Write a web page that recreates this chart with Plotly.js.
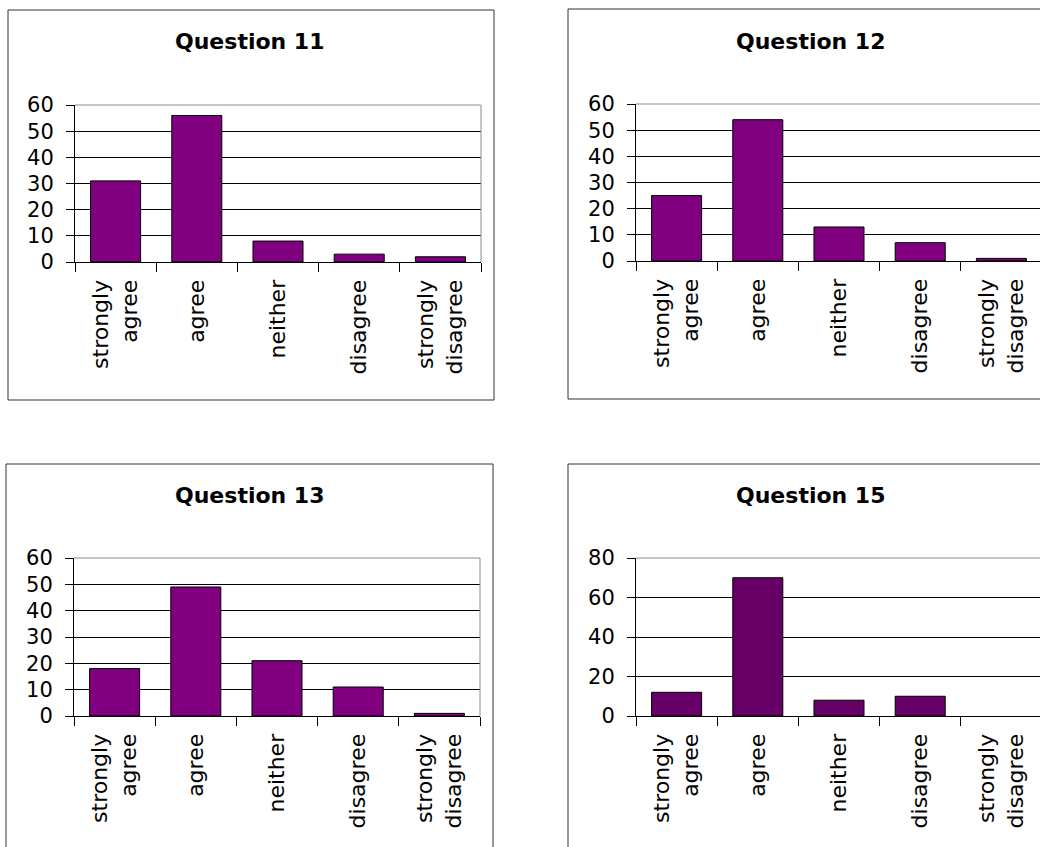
<!DOCTYPE html>
<html><head><meta charset="utf-8">
<script src="https://cdn.plot.ly/plotly-3.0.1.min.js"></script>
<style>
html,body{margin:0;padding:0;overflow:hidden;background:#fff;width:1040px;height:847px}
#chart{width:1060px;height:860px}
</style>
</head><body><div id="chart"></div>
<script>
// ---- data ----
const categories = ["strongly<br>agree", "agree", "neither", "disagree", "strongly<br>disagree"];
const titles = ["Question 11", "Question 12", "Question 13", "Question 15"];
const q11Values = [31, 56, 8, 3, 2];
const q12Values = [25, 54, 13, 7, 1];
const q13Values = [18, 49, 21, 11, 1];
const q15Values = [12, 70, 8, 10, 0];
const yMax = [60, 60, 60, 80];
const yStep = [10, 10, 10, 20];

// ---- layout geometry (pixels) ----
const W = 1060, H = 860;
const panels = [
  {values: q11Values, color: '#800080', plot: [75, 481, 105, 262], box: [8, 494, 10, 400], t: [250, 41]},
  {values: q12Values, color: '#800080', plot: [636, 1042, 104, 261], box: [568, 1054, 9, 399], t: [811, 41]},
  {values: q13Values, color: '#800080', plot: [74, 480, 558, 716], box: [6, 493, 464, 854], t: [250, 495]},
  {values: q15Values, color: '#660066', plot: [636, 1042, 558, 716], box: [568, 1054, 464, 854], t: [811, 495]}
];

const FONT = 'DejaVu Sans, Verdana, Arial, sans-serif';
const traces = [];
const layout = {
  width: W, height: H,
  margin: {l: 0, r: 0, t: 0, b: 0},
  paper_bgcolor: '#fff', plot_bgcolor: '#fff',
  showlegend: false,
  bargap: 0.384,
  shapes: [], annotations: []
};

panels.forEach((p, i) => {
  const n = i === 0 ? '' : String(i + 1);
  const xa = 'x' + n, ya = 'y' + n;
  traces.push({
    type: 'bar', x: categories, y: p.values, xaxis: xa, yaxis: ya,
    marker: {color: p.color, line: {color: '#000', width: p.values.map(v => v === 0 ? 0 : 1)}},
    hoverinfo: 'x+y'
  });
  const [px0, px1, py0, py1] = p.plot;
  layout['xaxis' + n] = {
    domain: [px0 / W, px1 / W], anchor: ya, type: 'category',
    range: [-0.5, categories.length - 0.5],
    tickson: 'boundaries', ticks: 'outside', ticklen: 9, tickwidth: 1, tickcolor: '#000',
    showline: true, linecolor: '#000', linewidth: 1, showgrid: false, zeroline: false,
    tickangle: -90, ticklabelstandoff: 8,
    tickfont: {family: FONT, size: 22, color: '#000'}, fixedrange: true
  };
  layout['yaxis' + n] = {
    domain: [1 - py1 / H, 1 - py0 / H], anchor: xa,
    range: [0, yMax[i]], tick0: 0, dtick: yStep[i],
    ticks: 'outside', ticklen: 8, tickwidth: 1, tickcolor: '#000',
    showline: true, linecolor: '#000', linewidth: 1,
    showgrid: true, gridcolor: '#000', gridwidth: 1, zeroline: false,
    ticklabelstandoff: 8,
    tickfont: {family: FONT, size: 21, color: '#000'}, fixedrange: true
  };
  // plot-area top/right border (gray)
  layout.shapes.push(
    {type: 'line', xref: xa + ' domain', yref: ya + ' domain', x0: 0, x1: 1, y0: 1, y1: 1,
     line: {color: '#8c8c8c', width: 1}, layer: 'above'},
    {type: 'line', xref: xa + ' domain', yref: ya + ' domain', x0: 1, x1: 1, y0: 0, y1: 1,
     line: {color: '#8c8c8c', width: 1}, layer: 'above'}
  );
  // chart frame
  const [bx0, bx1, by0, by1] = p.box;
  layout.shapes.push({type: 'rect', xref: 'paper', yref: 'paper',
    x0: bx0 / W, x1: bx1 / W, y0: 1 - by1 / H, y1: 1 - by0 / H,
    line: {color: '#333', width: 1}, fillcolor: 'rgba(0,0,0,0)'});
  layout.annotations.push({
    text: titles[i], xref: 'paper', yref: 'paper',
    x: p.t[0] / W, y: 1 - p.t[1] / H, xanchor: 'center', yanchor: 'middle',
    showarrow: false, font: {family: FONT, size: 22, color: '#000', weight: 'bold'}
  });
});

Plotly.newPlot('chart', traces, layout, {displayModeBar: false, staticPlot: true});
</script>
</body></html>
